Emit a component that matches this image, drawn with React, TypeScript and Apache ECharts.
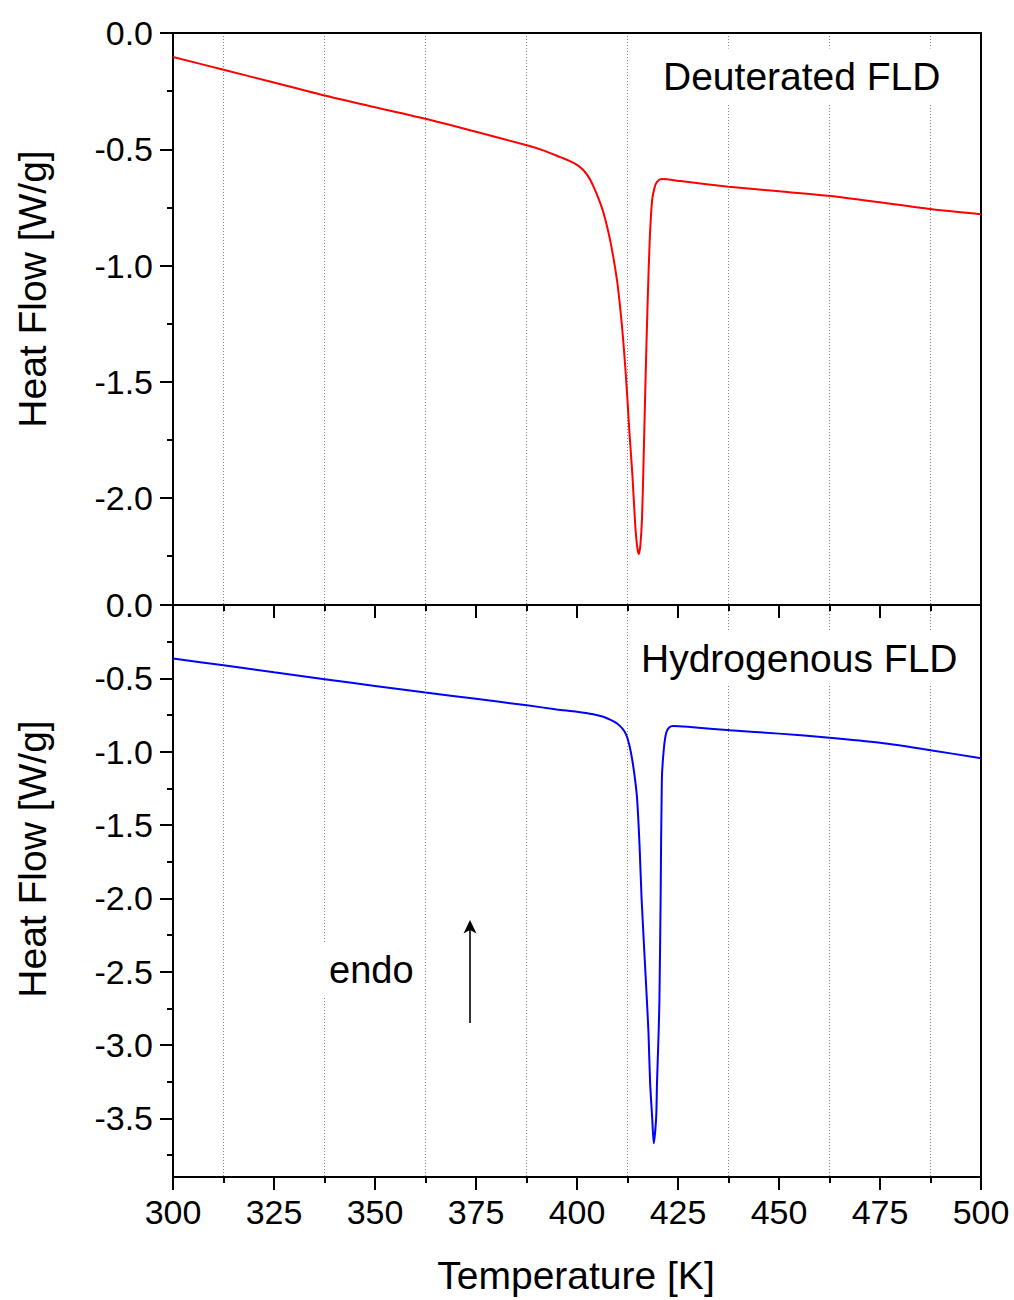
import React, { useEffect, useRef } from "react";
import * as echarts from "echarts";

// ---- Data ----
const xMin = 300;
const xMax = 500;
const xInterval = 25;

const topYMin = -2.46;
const bottomYMin = -3.9;

const topMajorTicks = [0, -0.5, -1.0, -1.5, -2.0];
const topMinorTicks = [-0.25, -0.75, -1.25, -1.75, -2.25];
const bottomMajorTicks = [0, -0.5, -1.0, -1.5, -2.0, -2.5, -3.0, -3.5];
const bottomMinorTicks = [-0.25, -0.75, -1.25, -1.75, -2.25, -2.75, -3.25, -3.75];

const deutT = [
  300, 312.5, 325, 337.5, 350, 362.5, 375, 387.6, 392, 396, 398, 400, 401.5, 403,
  404.1, 405.5, 406.6, 408.2, 409.9, 411.0, 411.7, 412.4, 413.0, 413.7, 414.4, 414.9,
  415.3, 415.7, 416.1, 416.5, 417.0, 417.5, 418.0, 418.6, 419.2, 419.8, 421.0, 425.6,
  437.5, 450, 462.7, 475, 487.4, 500,
];
const deutV = [
  -0.103, -0.158, -0.213, -0.269, -0.319, -0.369, -0.425, -0.483, -0.507, -0.535, -0.549,
  -0.567, -0.588, -0.623, -0.661, -0.72, -0.776, -0.891, -1.063, -1.236, -1.379, -1.552,
  -1.724, -1.897, -2.112, -2.21, -2.241, -2.2, -2.084, -1.825, -1.466, -1.149, -0.891,
  -0.718, -0.665, -0.64, -0.628, -0.637, -0.661, -0.681, -0.701, -0.728, -0.757, -0.779,
];

const hydT = [
  300, 312.5, 325, 337.5, 350, 362.5, 375, 387.6, 395, 400, 404, 406.5, 408.2, 410, 411.3,
  412.2, 413.0, 413.7, 414.4, 414.9, 415.5, 416.0, 417.3, 417.7, 418.1, 418.6, 419.0, 419.6,
  419.8, 420.2, 420.4, 420.7, 421.0, 421.5, 422.1, 422.8, 423.8, 428, 437.9, 450, 462.5, 475,
  487.5, 500,
];
const hydV = [
  -0.365, -0.411, -0.459, -0.506, -0.552, -0.597, -0.64, -0.684, -0.712, -0.728, -0.745,
  -0.762, -0.782, -0.81, -0.845, -0.885, -0.96, -1.06, -1.195, -1.33, -1.65, -2.01, -2.695,
  -2.92, -3.26, -3.49, -3.67, -3.49, -3.26, -2.92, -2.695, -2.01, -1.195, -0.98, -0.87,
  -0.835, -0.825, -0.832, -0.854, -0.877, -0.905, -0.94, -0.99, -1.045,
];

const FONT = "Liberation Sans, Arial, sans-serif";

export default function App() {
  const ref = useRef<HTMLDivElement>(null);

  useEffect(() => {
    document.body.style.margin = "0";
    if (!ref.current) return;
    const chart = echarts.init(ref.current, undefined, { renderer: "svg" });

    const axisLineStyle = { color: "#000", width: 2 };
    const fmt = (v: number) => Number(v).toFixed(1);

    const xBase = (gridIndex: number, showLabel: boolean) => ({
      type: "value",
      gridIndex,
      min: xMin,
      max: xMax,
      interval: xInterval,
      position: "bottom",
      axisLine: { show: true, onZero: false, lineStyle: axisLineStyle },
      axisTick: { show: true, inside: false, length: 13, lineStyle: { color: "#000", width: 2 } },
      minorTick: { show: true, splitNumber: 2, length: 6, lineStyle: { color: "#000", width: 2 } },
      axisLabel: {
        show: showLabel,
        fontSize: 34,
        fontFamily: FONT,
        color: "#000",
        margin: 18,
        formatter: (v: number) => String(v),
      },
      splitLine: { show: false },
      minorSplitLine: { show: true, lineStyle: { color: "#808080", width: 1, type: [1, 2] } },
    });

    const yMajor = (gridIndex: number, min: number, ticks: number[]) => ({
      type: "value",
      gridIndex,
      min,
      max: 0,
      position: "left",
      axisLine: { show: true, onZero: false, lineStyle: axisLineStyle },
      axisTick: {
        show: true,
        inside: false,
        length: 13,
        customValues: ticks,
        lineStyle: { color: "#000", width: 2 },
      },
      axisLabel: {
        show: true,
        customValues: ticks,
        fontSize: 34,
        fontFamily: FONT,
        color: "#000",
        margin: 20,
        formatter: fmt,
      },
      splitLine: { show: false },
    });

    const yMinor = (gridIndex: number, min: number, ticks: number[]) => ({
      type: "value",
      gridIndex,
      min,
      max: 0,
      position: "left",
      axisLine: { show: false },
      axisTick: {
        show: true,
        inside: false,
        length: 6,
        customValues: ticks,
        lineStyle: { color: "#000", width: 2 },
      },
      axisLabel: { show: false },
      splitLine: { show: false },
    });

    const yFrame = (gridIndex: number, min: number) => ({
      type: "value",
      gridIndex,
      min,
      max: 0,
      position: "right",
      axisLine: { show: true, onZero: false, lineStyle: axisLineStyle },
      axisTick: { show: false },
      axisLabel: { show: false },
      splitLine: { show: false },
    });

    const textBox = (text: string, x: number, y: number, size: number) => ({
      type: "text",
      z: 100,
      x,
      y,
      style: {
        text,
        fontSize: size,
        fontFamily: FONT,
        fill: "#000",
        align: "left",
        verticalAlign: "middle",
        backgroundColor: "#fff",
        padding: [8, 10],
      },
    });

    const rotName = (y: number) => ({
      type: "text",
      z: 100,
      x: 32,
      y,
      rotation: Math.PI / 2,
      style: {
        text: "Heat Flow [W/g]",
        fontSize: 39,
        fontFamily: FONT,
        fill: "#000",
        align: "center",
        verticalAlign: "middle",
      },
    });

    chart.setOption({
      animation: false,
      backgroundColor: "#fff",
      grid: [
        { left: 173, right: 33, top: 33, height: 572, containLabel: false },
        { left: 173, right: 33, top: 605, height: 572, containLabel: false },
      ],
      xAxis: [
        xBase(0, false),
        xBase(1, true),
        {
          type: "value",
          gridIndex: 0,
          min: xMin,
          max: xMax,
          position: "top",
          axisLine: { show: true, onZero: false, lineStyle: axisLineStyle },
          axisTick: { show: false },
          axisLabel: { show: false },
          splitLine: { show: false },
        },
      ],
      yAxis: [
        yMajor(0, topYMin, topMajorTicks),
        yMinor(0, topYMin, topMinorTicks),
        yFrame(0, topYMin),
        yMajor(1, bottomYMin, bottomMajorTicks),
        yMinor(1, bottomYMin, bottomMinorTicks),
        yFrame(1, bottomYMin),
      ],
      series: [
        {
          name: "Deuterated FLD",
          type: "line",
          xAxisIndex: 0,
          yAxisIndex: 0,
          data: deutT.map((t, i) => [t, deutV[i]]),
          showSymbol: false,
          smooth: 0.25,
          lineStyle: { color: "#ff0000", width: 2 },
          itemStyle: { color: "#ff0000" },
          z: 5,
        },
        {
          name: "Hydrogenous FLD",
          type: "line",
          xAxisIndex: 1,
          yAxisIndex: 3,
          data: hydT.map((t, i) => [t, hydV[i]]),
          showSymbol: false,
          smooth: 0.25,
          lineStyle: { color: "#0000ff", width: 2 },
          itemStyle: { color: "#0000ff" },
          z: 5,
        },
      ],
      graphic: [
        textBox("Deuterated FLD", 653, 76, 39),
        textBox("Hydrogenous FLD", 631, 658, 39),
        textBox("endo", 319, 970, 38),
        rotName(289),
        rotName(859),
        {
          type: "text",
          z: 100,
          x: 576,
          y: 1275,
          style: {
            text: "Temperature [K]",
            fontSize: 39,
            fontFamily: FONT,
            fill: "#000",
            align: "center",
            verticalAlign: "middle",
          },
        },
        {
          type: "line",
          z: 100,
          shape: { x1: 470, y1: 1023, x2: 470, y2: 926 },
          style: { stroke: "#000", lineWidth: 1.6 },
        },
        {
          type: "polygon",
          z: 100,
          shape: { points: [[470, 920], [476.5, 933.5], [470, 930], [463.5, 933.5]] },
          style: { fill: "#000" },
        },
      ],
    });

    return () => chart.dispose();
  }, []);

  return <div ref={ref} style={{ width: 1014, height: 1300 }} />;
}
